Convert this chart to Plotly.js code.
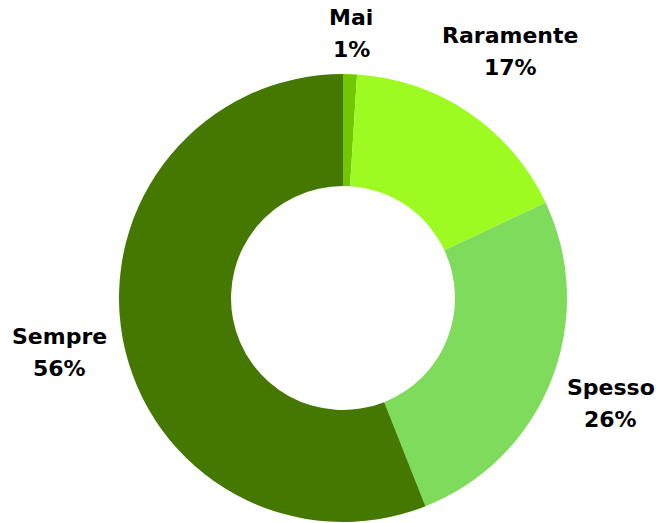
<!DOCTYPE html>
<html>
<head>
<meta charset="utf-8">
<script src="https://cdn.plot.ly/plotly-3.0.1.min.js"></script>
<style>
  html, body { margin: 0; padding: 0; background: #fff; }
  #chart { width: 663px; height: 523px; }
</style>
</head>
<body>
<div id="chart"></div>
<script>
// Answer categories and their shares (%)
const categories = ["Mai", "Raramente", "Spesso", "Sempre"];
const shares = [1, 17, 26, 56];
const sliceColors = ["#72c800", "#9dfb22", "#7fdb5b", "#447800"];

// Donut centre and radius in pixels, as seen in the reference
const W = 663, H = 523;
const cx = 343, cy = 298, r = 224;
const labelFont = { family: "DejaVu Sans", size: 22, color: "#000" };
const lineGap = 16; // half the distance between label line and percent line
const pad = 13;     // gap between ring edge and nearest side of a label

const total = shares.reduce((a, b) => a + b, 0);

// measure label text so it can be pushed clear of the ring
const ctx = document.createElement("canvas").getContext("2d");
ctx.font = `bold ${labelFont.size}px "${labelFont.family}"`;

// Outside labels, placed at each slice's middle angle (clockwise from top)
const annotations = [];
let cum = 0;
categories.forEach((cat, i) => {
  const frac = shares[i] / total;
  const theta = (cum + frac / 2) * 2 * Math.PI;
  cum += frac;
  const pct = Math.round(frac * 100) + "%";
  const w = Math.max(ctx.measureText(cat).width, ctx.measureText(pct).width);
  const h = 2 * lineGap + labelFont.size;
  const reach = Math.abs(Math.sin(theta)) * w / 2 + Math.abs(Math.cos(theta)) * h / 2;
  const d = r + pad + reach;
  const px = cx + d * Math.sin(theta);
  const py = cy - d * Math.cos(theta);
  [[cat, py - lineGap], [pct, py + lineGap]].forEach(([txt, yy]) => {
    annotations.push({
      text: "<b>" + txt + "</b>",
      xref: "paper", yref: "paper",
      x: px / W, y: (H - yy) / H,
      xanchor: "center", yanchor: "middle",
      showarrow: false,
      font: labelFont,
    });
  });
});

const trace = {
  type: "pie",
  labels: categories,
  values: shares,
  sort: false,
  direction: "clockwise",
  rotation: 0,
  hole: 0.5,
  marker: { colors: sliceColors, line: { width: 0 } },
  textinfo: "none",
  domain: {
    x: [(cx - r) / W, (cx + r) / W],
    y: [(H - cy - r) / H, (H - cy + r) / H],
  },
  hoverinfo: "label+percent",
};

const layout = {
  width: W,
  height: H,
  margin: { l: 0, r: 0, t: 0, b: 0 },
  showlegend: false,
  paper_bgcolor: "#fff",
  annotations: annotations,
};

Plotly.newPlot("chart", [trace], layout, { displayModeBar: false });
</script>
</body>
</html>
